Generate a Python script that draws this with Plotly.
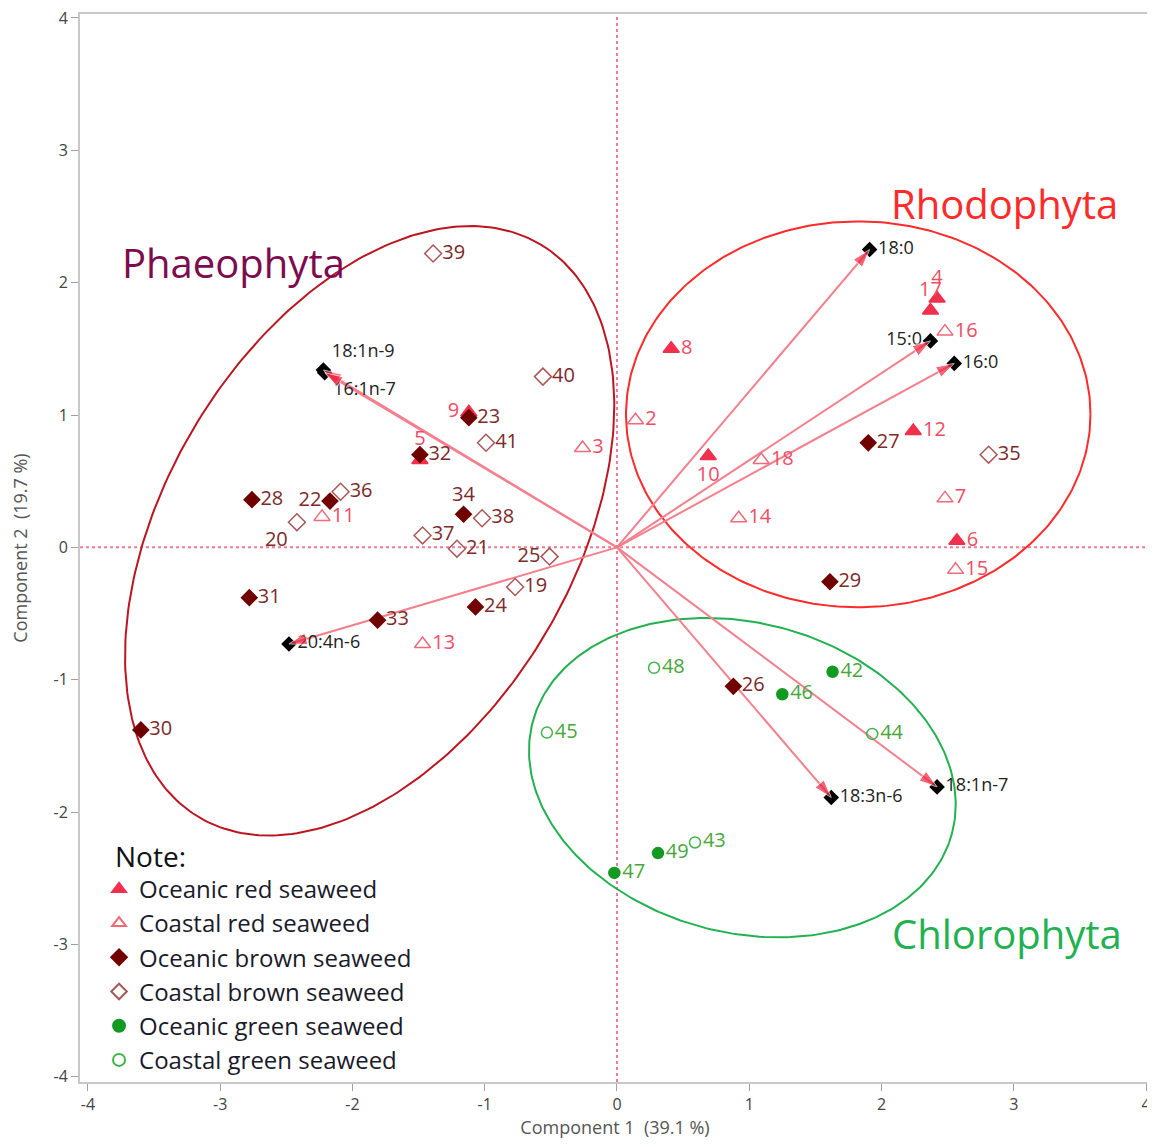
import numpy as np
import plotly.graph_objects as go

# ---------------- data ----------------
ored_lab = ["8", "10", "12", "6", "9", "5", "17", "4"]
ored_x = [0.41, 0.69, 2.24, 2.57, -1.12, -1.49, 2.37, 2.42]
ored_y = [1.50, 0.69, 0.88, 0.05, 1.02, 0.66, 1.79, 1.88]

cred_lab = ["2", "3", "7", "11", "13", "14", "15", "16", "18"]
cred_x = [0.14, -0.26, 2.48, -2.23, -1.47, 0.92, 2.56, 2.48, 1.09]
cred_y = [0.96, 0.75, 0.37, 0.23, -0.73, 0.22, -0.17, 1.63, 0.66]

obrown_lab = ["22", "23", "24", "26", "27", "28", "29", "30", "31", "32", "33", "34"]
obrown_x = [-2.17, -1.12, -1.07, 0.88, 1.90, -2.76, 1.61, -3.60, -2.78, -1.49, -1.81, -1.16]
obrown_y = [0.35, 0.98, -0.45, -1.05, 0.79, 0.36, -0.26, -1.38, -0.38, 0.70, -0.55, 0.25]

cbrown_lab = ["19", "20", "21", "25", "35", "36", "37", "38", "39", "40", "41"]
cbrown_x = [-0.77, -2.42, -1.21, -0.51, 2.81, -2.09, -1.47, -1.02, -1.39, -0.56, -0.99]
cbrown_y = [-0.30, 0.19, -0.01, -0.07, 0.70, 0.42, 0.09, 0.22, 2.22, 1.29, 0.79]

ogreen_lab = ["42", "46", "47", "49"]
ogreen_x = [1.63, 1.25, -0.02, 0.31]
ogreen_y = [-0.94, -1.11, -2.46, -2.31]

cgreen_lab = ["43", "44", "45", "48"]
cgreen_x = [0.59, 1.93, -0.53, 0.28]
cgreen_y = [-2.23, -1.41, -1.40, -0.91]

load_lab = ["18:0", "15:0", "16:0", "18:1n-9", "16:1n-7", "20:4n-6", "18:3n-6", "18:1n-7"]
load_x = [1.91, 2.37, 2.55, -2.22, -2.21, -2.48, 1.62, 2.42]
load_y = [2.25, 1.56, 1.39, 1.34, 1.32, -0.73, -1.89, -1.81]

tick_vals = [-4, -3, -2, -1, 0, 1, 2, 3, 4]
tick_text = ["-4", "-3", "-2", "-1", "0", "1", "2", "3", "4"]

# ellipse definitions: (cx, cy, semi-major, semi-minor, angle deg)
ellipses = {
    "Phaeophyta": (-1.87, 0.125, 2.52, 1.54, 59.1),
    "Rhodophyta": (1.824, 1.005, 1.756, 1.458, 0.0),
    "Chlorophyta": (0.948, -1.74, 1.64, 1.17, -14.9),
}
ell_colors = {"Phaeophyta": "#bb1620", "Rhodophyta": "#ff2a2a", "Chlorophyta": "#22b150"}

# ---------------- label placement ----------------
pos_special = {
    "9": "middle left", "5": "top center", "10": "bottom center", "20": "bottom left",
    "22": "middle left", "34": "top center", "25": "middle left", "17": "top center",
    "4": "top center",
    "15:0": "middle left", "18:1n-9": "top right", "16:1n-7": "bottom right",
}


def positions(labels):
    return [pos_special.get(l, "middle right") for l in labels]


FONT = "Open Sans"
fig = go.Figure()

# ellipses
for name, (cx, cy, a, b, ang) in ellipses.items():
    t = np.linspace(0, 2 * np.pi, 300)
    th = np.deg2rad(ang)
    ex = cx + a * np.cos(t) * np.cos(th) - b * np.sin(t) * np.sin(th)
    ey = cy + a * np.cos(t) * np.sin(th) + b * np.sin(t) * np.cos(th)
    fig.add_trace(go.Scatter(x=ex, y=ey, mode="lines", line=dict(color=ell_colors[name], width=2),
                             hoverinfo="skip", showlegend=False))

# loading lines
for lx, ly in zip(load_x, load_y):
    fig.add_trace(go.Scatter(x=[0, lx], y=[0, ly], mode="lines", line=dict(color="#f57f8c", width=2),
                             hoverinfo="skip", showlegend=False))
fig.add_trace(go.Scatter(x=load_x, y=load_y, mode="markers+text", text=load_lab,
                         textposition=positions(load_lab),
                         textfont=dict(family=FONT, size=18, color="#222222"),
                         marker=dict(symbol="diamond", size=12, color="black"),
                         showlegend=False))
for lx, ly in zip(load_x, load_y):
    fig.add_trace(go.Scatter(x=[0, lx], y=[0, ly], mode="markers",
                             marker=dict(symbol="arrow", angleref="previous", size=[0, 19],
                                         color="#f0243f"),
                             hoverinfo="skip", showlegend=False))

groups = [
    ("Oceanic red seaweed", ored_lab, ored_x, ored_y, "triangle-up", "#f0304c", 14, "#f04c66"),
    ("Coastal red seaweed", cred_lab, cred_x, cred_y, "triangle-up-open", "#f06a7a", 14, "#f04c66"),
    ("Oceanic brown seaweed", obrown_lab, obrown_x, obrown_y, "diamond", "#700000", 12, "#7c2a2a"),
    ("Coastal brown seaweed", cbrown_lab, cbrown_x, cbrown_y, "diamond-open", "#a85858", 13, "#7c2a2a"),
    ("Oceanic green seaweed", ogreen_lab, ogreen_x, ogreen_y, "circle", "#129a22", 11, "#48a63a"),
    ("Coastal green seaweed", cgreen_lab, cgreen_x, cgreen_y, "circle-open", "#3fb548", 11, "#48a63a"),
]
for name, lab, gx, gy, sym, col, sz, tcol in groups:
    fig.add_trace(go.Scatter(
        x=gx, y=gy, mode="markers+text", name=name, text=lab,
        textposition=positions(lab),
        textfont=dict(family=FONT, size=20, color=tcol),
        marker=dict(symbol=sym, size=sz, color=col, line=dict(color=col, width=1.5)),
    ))

# zero dotted lines
fig.add_shape(type="line", x0=0, x1=0, y0=-4.04, y1=4.03, xref="x", yref="y",
              line=dict(color="#f27a90", width=2, dash="dot"), layer="below")
fig.add_shape(type="line", x0=-4.06, x1=4.03, y0=0, y1=0, xref="x", yref="y",
              line=dict(color="#f27a90", width=2, dash="dot"), layer="below")

# group names
fig.add_annotation(x=-2.90, y=2.154, text="Phaeophyta", showarrow=False,
                   font=dict(family=FONT, size=40, color="#7d0b4d"))
fig.add_annotation(x=2.93, y=2.60, text="Rhodophyta", showarrow=False,
                   font=dict(family=FONT, size=40, color="#ff2a2a"))
fig.add_annotation(x=2.95, y=-2.92, text="Chlorophyta", showarrow=False,
                   font=dict(family=FONT, size=40, color="#22b150"))
# legend heading
fig.add_annotation(xref="paper", yref="paper", x=0.031, y=0.2116, xanchor="left", yanchor="middle",
                   text="Note:", showarrow=False, font=dict(family=FONT, size=28, color="#111111"))

axis_common = dict(showgrid=False, zeroline=False, showline=True, mirror=True,
                   linecolor="#c8c8c8", linewidth=2, ticks="outside", ticklen=7,
                   tickcolor="#a0a0a0", tickwidth=1, automargin=False,
                   ticklabeloverflow="allow",
                   tickfont=dict(family=FONT, size=16, color="#444444"),
                   tickvals=tick_vals, ticktext=tick_text)
# the page body adds an 8px margin on every side, so the figure is sized to fit without scrolling
fig.update_layout(
    width=1147, height=1131,
    margin=dict(l=72, r=5, t=6, b=57),
    plot_bgcolor="white", paper_bgcolor="white",
    xaxis=dict(range=[-4.06, 4.03],
               title=dict(text="Component 1  (39.1 %)", font=dict(family=FONT, size=18, color="#555555"),
                          standoff=7),
               **axis_common),
    yaxis=dict(range=[-4.04, 4.03],
               title=dict(text="Component 2  (19.7 %)", font=dict(family=FONT, size=18, color="#555555"),
                          standoff=21),
               **axis_common),
    legend=dict(x=0.0178, y=0.2015, xanchor="left", yanchor="top",
                font=dict(family=FONT, size=24, color="#1a1a2a"),
                bgcolor="rgba(0,0,0,0)", tracegroupgap=0, itemsizing="constant"),
)

fig.write_html("out.html")
